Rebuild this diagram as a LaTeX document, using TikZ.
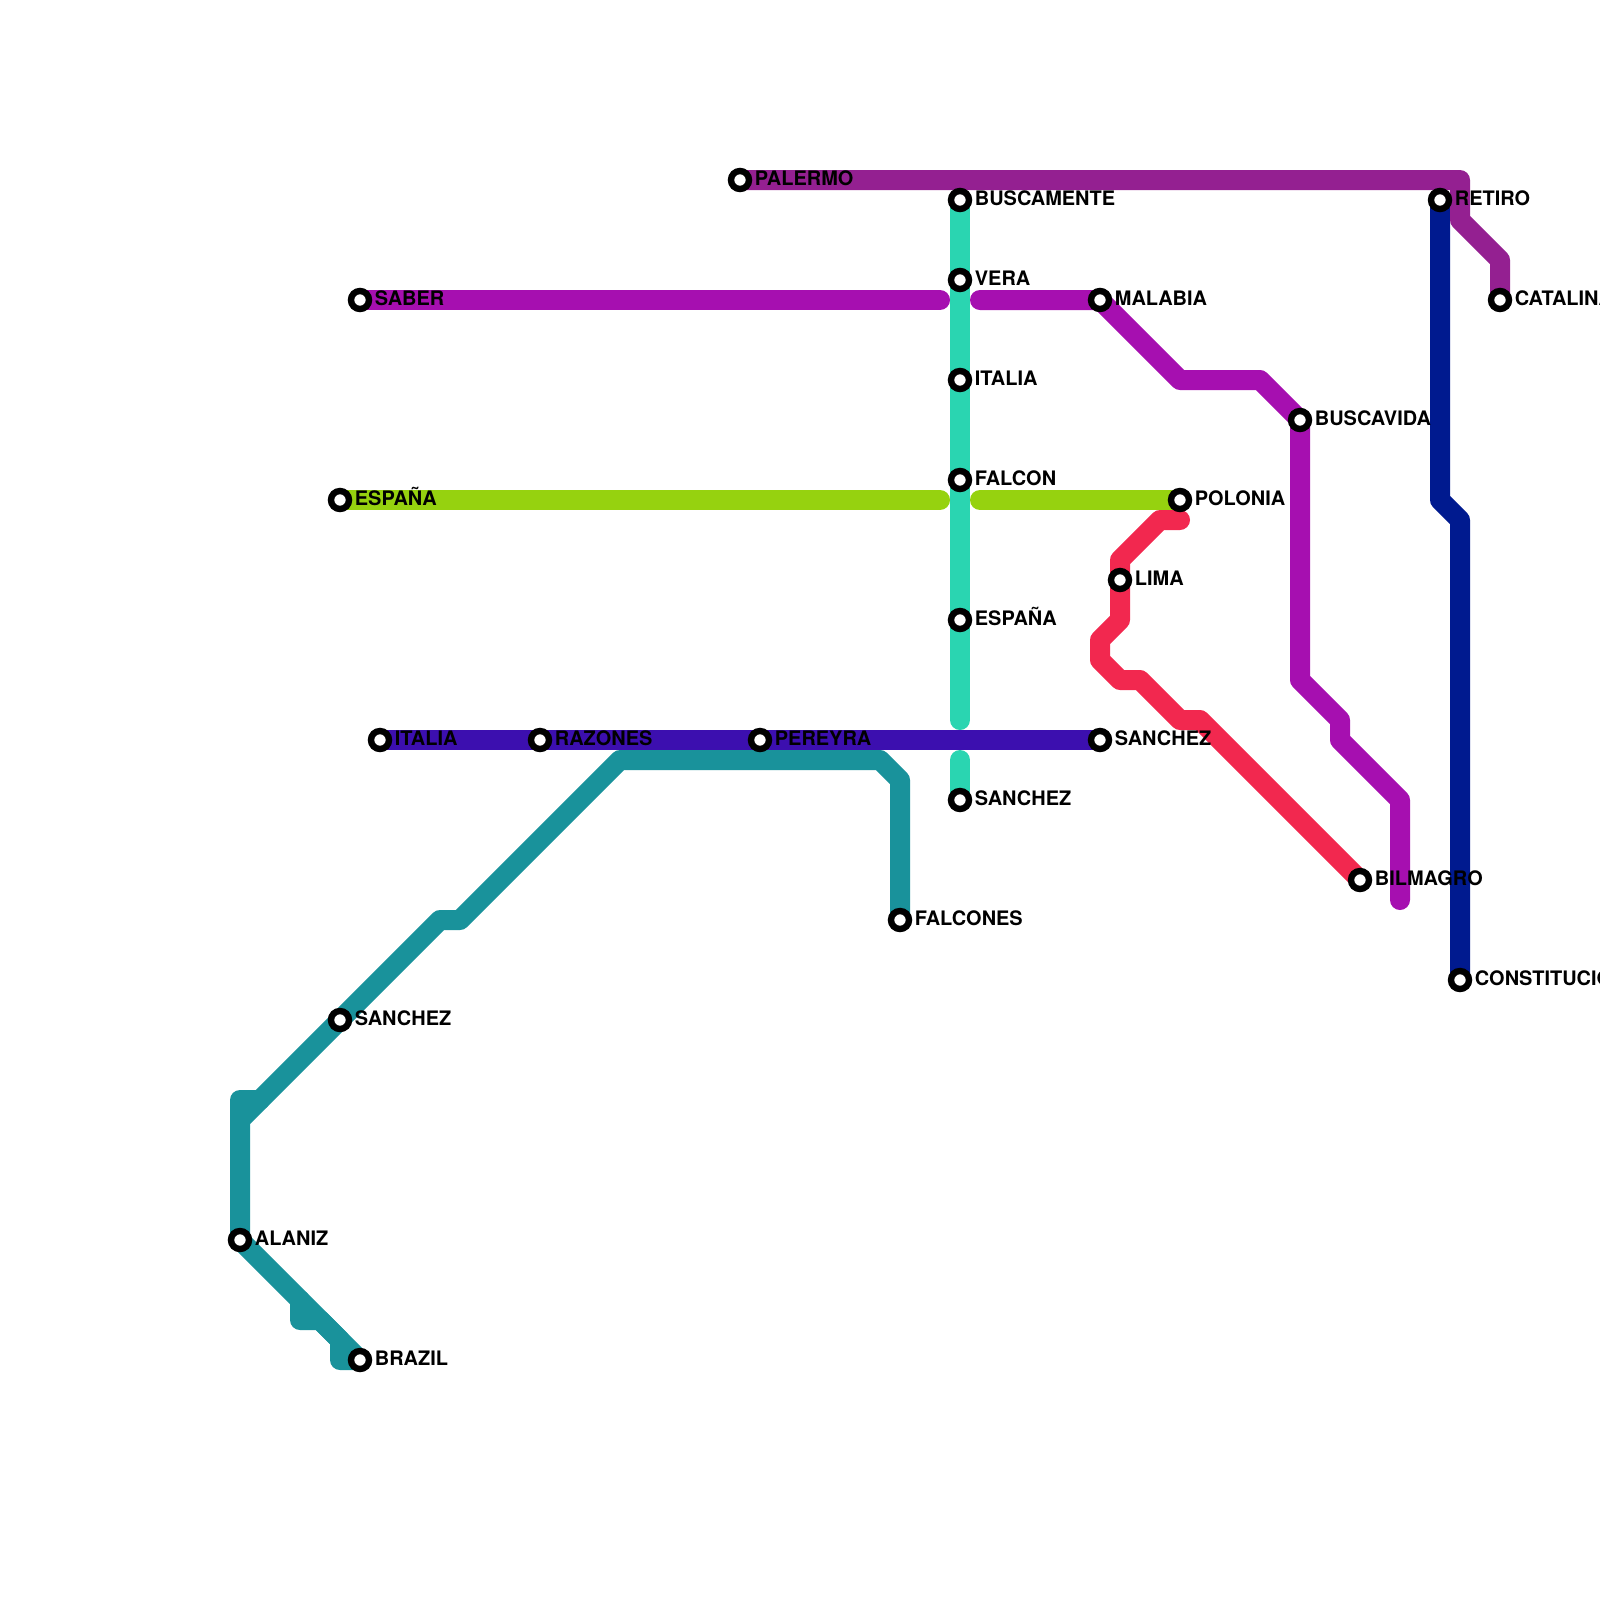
\documentclass[tikz,border=0pt]{standalone}
\usepackage{fontspec}
\setmainfont{TeX Gyre Heros}
\definecolor{tealline}{HTML}{19929B}
\definecolor{mintline}{HTML}{2AD5B1}
\definecolor{purpleline}{HTML}{A60FB0}
\definecolor{limeline}{HTML}{96D20F}
\definecolor{redline}{HTML}{F2284F}
\definecolor{indigoline}{HTML}{3C0FAF}
\definecolor{navyline}{HTML}{001A8F}
\definecolor{plumline}{HTML}{942091}
\tikzset{
    metroline/.style={line width=0.5cm, line cap=round, line join=round},
    stopdot/.style={circle, draw=black, fill=white, line width=0.16cm, minimum size=0.45cm, inner sep=0pt, outer sep=0pt},
    stoplabel/.style={anchor=base west, inner sep=0pt, xshift=0.365cm, yshift=-0.125cm, font=\fontsize{14.2}{16}\selectfont\bfseries}
}
\begin{document}
\begin{tikzpicture}[x=0.5cm, y=-0.5cm]
    \useasboundingbox (0,0) rectangle (80,80);

    % stops
    \coordinate (falcones) at (45,46); \coordinate (sanchezw) at (17,51);
    \coordinate (alaniz) at (12,62); \coordinate (brazil) at (18,68);
    \coordinate (buscamente) at (48,10); \coordinate (vera) at (48,14);
    \coordinate (italiac) at (48,19); \coordinate (falcon) at (48,24);
    \coordinate (espanac) at (48,31); \coordinate (sanchezc) at (48,40);
    \coordinate (saber) at (18,15); \coordinate (malabia) at (55,15);
    \coordinate (buscavida) at (65,21); \coordinate (espanaw) at (17,25);
    \coordinate (polonia) at (59,25); \coordinate (lima) at (56,29);
    \coordinate (bilmagro) at (68,44); \coordinate (italiaw) at (19,37);
    \coordinate (razones) at (27,37); \coordinate (pereyra) at (38,37);
    \coordinate (sanchezs) at (55,37); \coordinate (retiro) at (72,10);
    \coordinate (constitucion) at (73,49); \coordinate (palermo) at (37,9);
    \coordinate (catalina) at (75,15);

    % teal line
    \draw[metroline, tealline] (falcones) -- (45,39) -- (44,38) -- (31,38) -- (23,46)
        -- (22,46) -- (12,56) -- (alaniz) -- (brazil);
    \draw[metroline, tealline] (13,55) -- (12,55) -- (12,56);
    \draw[metroline, tealline] (15,65) -- (15,66) -- (16,66) -- (17,67) -- (17,68) -- (brazil);

    % mint line, broken at the crossing
    \draw[metroline, mintline] (buscamente) -- (48,36);
    \draw[metroline, mintline] (48,38) -- (sanchezc);

    % purple line
    \draw[metroline, purpleline] (saber) -- (47,15);
    \draw[metroline, purpleline] (49,15) -- (malabia) -- (59,19) -- (63,19) -- (buscavida)
        -- (65,34) -- (67,36) -- (67,37) -- (70,40) -- (70,45);

    % lime line
    \draw[metroline, limeline] (espanaw) -- (47,25);
    \draw[metroline, limeline] (49,25) -- (polonia);

    % red line
    \draw[metroline, redline] (59,26) -- (58,26) -- (56,28) -- (lima) -- (56,31) -- (55,32)
        -- (55,33) -- (56,34) -- (57,34) -- (59,36) -- (60,36) -- (bilmagro);

    % indigo, navy and plum lines
    \draw[metroline, indigoline] (italiaw) -- (sanchezs);
    \draw[metroline, navyline] (retiro) -- (72,25) -- (73,26) -- (constitucion);
    \draw[metroline, plumline] (palermo) -- (73,9) -- (73,11) -- (75,13) -- (catalina);

    % stop rings and names
    \foreach \stopname/\stoptext in {falcones/FALCONES, sanchezw/SANCHEZ, alaniz/ALANIZ,
        brazil/BRAZIL, buscamente/BUSCAMENTE, vera/VERA, italiac/ITALIA, falcon/FALCON,
        espanac/ESPAÑA, sanchezc/SANCHEZ, saber/SABER, malabia/MALABIA,
        buscavida/BUSCAVIDA, espanaw/ESPAÑA, polonia/POLONIA, lima/LIMA,
        bilmagro/BILMAGRO, italiaw/ITALIA, razones/RAZONES, pereyra/PEREYRA,
        sanchezs/SANCHEZ, retiro/RETIRO, constitucion/CONSTITUCION, palermo/PALERMO,
        catalina/CATALINA} {
        \node[stopdot] (\stopname dot) at (\stopname) {};
        \node[stoplabel] (\stopname text) at (\stopname) {\stoptext};
    }
\end{tikzpicture}
\end{document}
